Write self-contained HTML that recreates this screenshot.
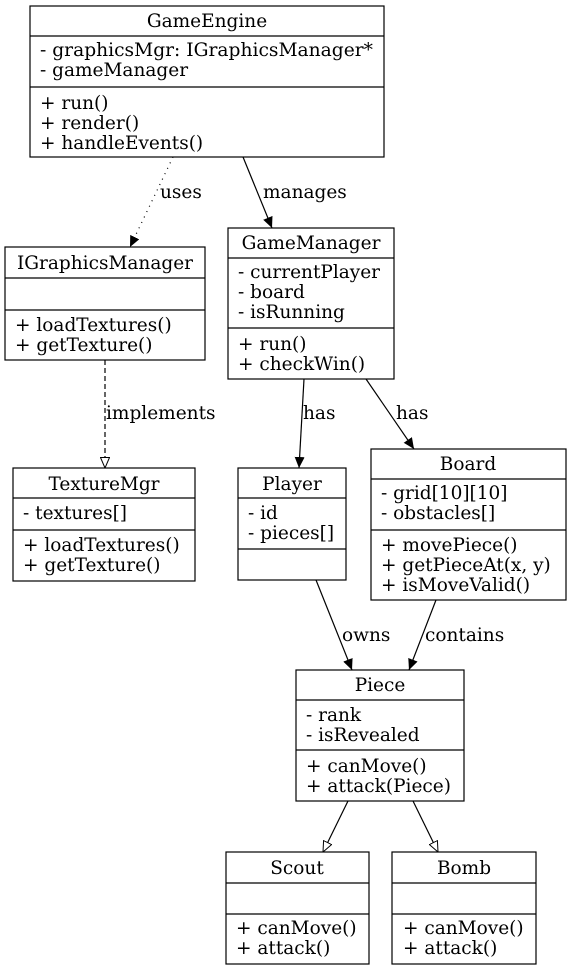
<!DOCTYPE html>
<html><head><meta charset="utf-8"><style>
html,body{margin:0;padding:0;background:#fff;}
svg{display:block;}
text{font-family:"DejaVu Serif",serif;font-size:18.5px;fill:#000;}
.b{fill:#fff;stroke:#000;stroke-width:1.2;}
.l{stroke:#000;stroke-width:1.2;fill:none;}
</style></head><body>
<svg width="571" height="971" viewBox="0 0 571 971" xmlns="http://www.w3.org/2000/svg">
<defs>
<marker id="f" markerWidth="12" markerHeight="10" refX="11" refY="5" orient="auto" markerUnits="userSpaceOnUse"><path d="M0,0 L11,5 L0,10 z" fill="#000"/></marker>
<marker id="h" markerWidth="12" markerHeight="10" refX="11" refY="5" orient="auto" markerUnits="userSpaceOnUse"><path d="M0.5,0.5 L11,5 L0.5,9.5 z" fill="#fff" stroke="#000"/></marker>
</defs>
<line class="l" x1="173" y1="157" x2="130" y2="247" stroke-dasharray="1,5" marker-end="url(#f)"/>
<text x="160" y="198">uses</text>
<line class="l" x1="243" y1="157" x2="272" y2="228" marker-end="url(#f)"/>
<text x="263" y="198">manages</text>
<line class="l" x1="105" y1="360" x2="105" y2="468" stroke-dasharray="5,3" marker-end="url(#h)"/>
<text x="106" y="419">implements</text>
<line class="l" x1="304" y1="379" x2="299" y2="468" marker-end="url(#f)"/>
<text x="303" y="419">has</text>
<line class="l" x1="366" y1="379" x2="414" y2="449" marker-end="url(#f)"/>
<text x="396" y="419">has</text>
<line class="l" x1="316" y1="580" x2="352" y2="670" marker-end="url(#f)"/>
<text x="342" y="641">owns</text>
<line class="l" x1="436" y1="600" x2="409" y2="670" marker-end="url(#f)"/>
<text x="425" y="641">contains</text>
<line class="l" x1="348" y1="801" x2="323" y2="852" marker-end="url(#h)"/>
<line class="l" x1="413" y1="801" x2="438" y2="852" marker-end="url(#h)"/>

<rect class="b" x="30" y="6" width="354" height="151"/>
<line class="l" x1="30" y1="36" x2="384" y2="36"/><line class="l" x1="30" y1="87" x2="384" y2="87"/>
<text x="207" y="27" text-anchor="middle">GameEngine</text>
<text x="40" y="56" textLength="333" lengthAdjust="spacingAndGlyphs">- graphicsMgr: IGraphicsManager*</text>
<text x="40" y="76">- gameManager</text>
<text x="40" y="109">+ run()</text>
<text x="40" y="129">+ render()</text>
<text x="40" y="149">+ handleEvents()</text>

<rect class="b" x="5" y="247" width="200" height="113"/>
<line class="l" x1="5" y1="278" x2="205" y2="278"/><line class="l" x1="5" y1="310" x2="205" y2="310"/>
<text x="105" y="269" text-anchor="middle">IGraphicsManager</text>
<text x="15" y="331">+ loadTextures()</text>
<text x="15" y="351">+ getTexture()</text>

<rect class="b" x="228" y="228" width="166" height="151"/>
<line class="l" x1="228" y1="258" x2="394" y2="258"/><line class="l" x1="228" y1="328" x2="394" y2="328"/>
<text x="311" y="249" text-anchor="middle">GameManager</text>
<text x="238" y="278">- currentPlayer</text>
<text x="238" y="298">- board</text>
<text x="238" y="318">- isRunning</text>
<text x="238" y="350">+ run()</text>
<text x="238" y="370">+ checkWin()</text>

<rect class="b" x="13" y="468" width="182" height="113"/>
<line class="l" x1="13" y1="498" x2="195" y2="498"/><line class="l" x1="13" y1="530" x2="195" y2="530"/>
<text x="104" y="490" text-anchor="middle">TextureMgr</text>
<text x="23" y="519">- textures[]</text>
<text x="23" y="551">+ loadTextures()</text>
<text x="23" y="571">+ getTexture()</text>

<rect class="b" x="238" y="468" width="108" height="112"/>
<line class="l" x1="238" y1="498" x2="346" y2="498"/><line class="l" x1="238" y1="549" x2="346" y2="549"/>
<text x="292" y="490" text-anchor="middle">Player</text>
<text x="248" y="519">- id</text>
<text x="248" y="539">- pieces[]</text>

<rect class="b" x="371" y="449" width="195" height="151"/>
<line class="l" x1="371" y1="479" x2="566" y2="479"/><line class="l" x1="371" y1="530" x2="566" y2="530"/>
<text x="468" y="470" text-anchor="middle">Board</text>
<text x="381" y="499">- grid[10][10]</text>
<text x="381" y="519">- obstacles[]</text>
<text x="381" y="551">+ movePiece()</text>
<text x="381" y="571">+ getPieceAt(x, y)</text>
<text x="381" y="591">+ isMoveValid()</text>

<rect class="b" x="296" y="670" width="168" height="131"/>
<line class="l" x1="296" y1="700" x2="464" y2="700"/><line class="l" x1="296" y1="750" x2="464" y2="750"/>
<text x="380" y="691" text-anchor="middle">Piece</text>
<text x="306" y="721">- rank</text>
<text x="306" y="741">- isRevealed</text>
<text x="306" y="772">+ canMove()</text>
<text x="306" y="792">+ attack(Piece)</text>

<rect class="b" x="226" y="852" width="143" height="112"/>
<line class="l" x1="226" y1="883" x2="369" y2="883"/><line class="l" x1="226" y1="914" x2="369" y2="914"/>
<text x="297" y="874" text-anchor="middle">Scout</text>
<text x="236" y="934">+ canMove()</text>
<text x="236" y="954">+ attack()</text>

<rect class="b" x="392" y="852" width="144" height="112"/>
<line class="l" x1="392" y1="883" x2="536" y2="883"/><line class="l" x1="392" y1="914" x2="536" y2="914"/>
<text x="464" y="874" text-anchor="middle">Bomb</text>
<text x="403" y="934">+ canMove()</text>
<text x="403" y="954">+ attack()</text>
</svg>
</body></html>
